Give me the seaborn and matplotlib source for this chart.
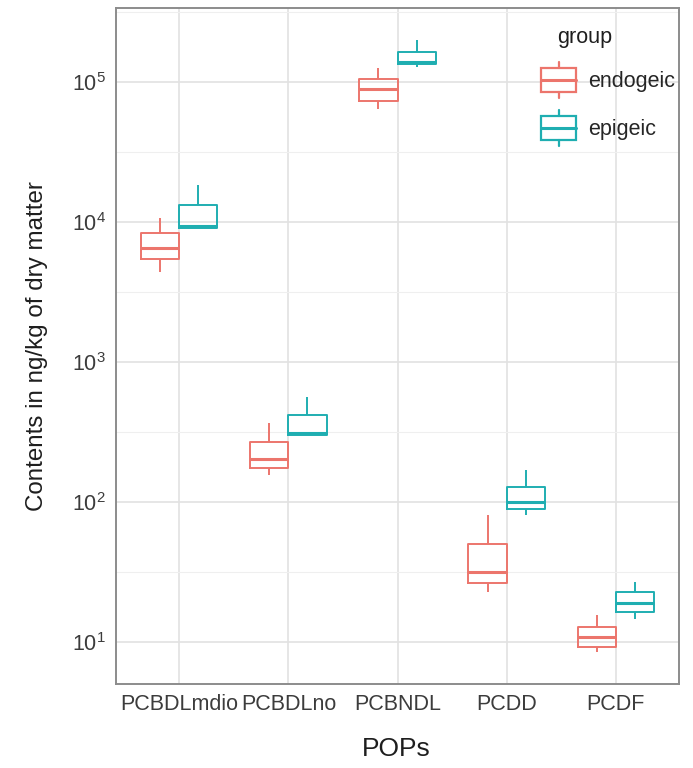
import numpy as np
import pandas as pd
import matplotlib
matplotlib.use("Agg")
import matplotlib.pyplot as plt
import seaborn as sns
from matplotlib.legend_handler import HandlerBase
from matplotlib.patches import Rectangle, Patch
from matplotlib.lines import Line2D

categories = ["PCBDLmdio", "PCBDLno", "PCBNDL", "PCDD", "PCDF"]
groups = ["endogeic", "epigeic"]

# five-number summaries (ng/kg): lower whisker, Q1, median, Q3, upper whisker
endogeic_low = [4390, 156, 64100, 22.8, 8.5]
endogeic_q1 = [5440, 175, 73100, 26.4, 9.2]
endogeic_med = [6520, 203, 89100, 31.6, 10.9]
endogeic_q3 = [8340, 268, 105000, 50.0, 12.8]
endogeic_high = [10700, 366, 126000, 80.7, 15.6]

epigeic_low = [9060, 301, 128000, 81.0, 14.6]
epigeic_q1 = [9060, 301, 134000, 89.0, 16.4]
epigeic_med = [9300, 311, 139000, 100.0, 19.0]
epigeic_q3 = [13200, 418, 164000, 128.0, 22.8]
epigeic_high = [18400, 562, 200000, 169.0, 26.8]

ytick_values = [1e1, 1e2, 1e3, 1e4, 1e5]
ytick_labels = [r"$\mathregular{10^{1}}$", r"$\mathregular{10^{2}}$", r"$\mathregular{10^{3}}$",
                r"$\mathregular{10^{4}}$", r"$\mathregular{10^{5}}$"]

summaries = {
    "endogeic": [endogeic_low, endogeic_q1, endogeic_med, endogeic_q3, endogeic_high],
    "epigeic": [epigeic_low, epigeic_q1, epigeic_med, epigeic_q3, epigeic_high],
}
rows = []
for g in groups:
    for arr in summaries[g]:
        for c, v in zip(categories, arr):
            rows.append({"POPs": c, "value": v, "group": g})
df = pd.DataFrame(rows)

sns.set_style("white")
plt.rcParams["font.family"] = ["Liberation Sans", "DejaVu Sans"]
plt.rcParams["mathtext.fontset"] = "custom"
plt.rcParams["mathtext.rm"] = "Liberation Sans"

fig = plt.figure(figsize=(6.93, 7.68), dpi=100)
ax = fig.add_axes([116 / 693, 1 - 684 / 768, (679 - 116) / 693, (684 - 8) / 768])

palette = {"endogeic": "#EC756C", "epigeic": "#1FAEB1"}
sns.boxplot(data=df, x="POPs", y="value", hue="group", order=categories,
            hue_order=groups, palette=palette, fill=False, width=0.7, gap=0,
            log_scale=True, showcaps=False, linewidth=1.4,
            medianprops=dict(linewidth=2.2), whis=1.5, ax=ax, legend=False)

ax.set_yticks(ytick_values)
ax.set_yticklabels(ytick_labels)
ax.set_yticks([10 ** (k + 0.5) for k in range(0, 6)], minor=True)
ax.yaxis.set_minor_formatter(matplotlib.ticker.NullFormatter())
ax.set_ylim(10 ** 0.7, 10 ** 5.529)
ax.set_xlim(-0.58, 4.58)
ax.tick_params(axis="y", which="minor", length=0)
ax.tick_params(axis="both", which="major", length=4, width=1.0, color="#555555",
               labelcolor="#3C3C3C", labelsize=15.5, pad=3.5)
ax.grid(True, which="major", color="#E2E2E2", linewidth=1.2)
ax.grid(True, which="minor", axis="y", color="#EFEFEF", linewidth=0.8)
ax.set_axisbelow(True)
for s in ax.spines.values():
    s.set_color("#8C8C8C")
    s.set_linewidth(1.4)

ax.set_xlabel("POPs", fontsize=19, color="#1E1E1E")
ax.set_ylabel("Contents in ng/kg of dry matter", fontsize=17.4, color="#1E1E1E")
ax.xaxis.set_label_coords(0.497, -0.078)
ax.yaxis.set_label_coords(-0.12, 0.5)


class BoxHandler(HandlerBase):
    def create_artists(self, legend, orig_handle, xdescent, ydescent, width, height, fontsize, trans):
        col = orig_handle.get_edgecolor()
        x0, y0 = -xdescent, -ydescent
        bh = height * 0.66
        by = y0 + (height - bh) / 2
        rect = Rectangle((x0 + 1, by), width - 2, bh, facecolor="white", edgecolor=col,
                         linewidth=1.6, transform=trans)
        cx = x0 + width / 2
        med = Line2D([x0 + 1, x0 + width - 1], [y0 + height / 2] * 2, color=col,
                     linewidth=2.2, transform=trans)
        w1 = Line2D([cx, cx], [y0, by], color=col, linewidth=1.6, transform=trans)
        w2 = Line2D([cx, cx], [by + bh, y0 + height], color=col, linewidth=1.6, transform=trans)
        return [rect, med, w1, w2]


handles = [Patch(facecolor="white", edgecolor=palette[g]) for g in groups]
fs = 15.5
ax.legend(handles, groups, handler_map={Patch: BoxHandler()}, loc="upper left",
          bbox_to_anchor=(540 / 693, 1 - 62 / 768), bbox_transform=fig.transFigure,
          frameon=False, fontsize=fs, borderpad=0, borderaxespad=0,
          handlelength=37 / (fs * 100 / 72), handleheight=2.2,
          labelspacing=0.55, handletextpad=0.5)
fig.text(585 / 693, 1 - 37 / 768, "group", fontsize=15.5, color="#1E1E1E",
         ha="center", va="center")

fig.savefig("out.png", dpi=100)
